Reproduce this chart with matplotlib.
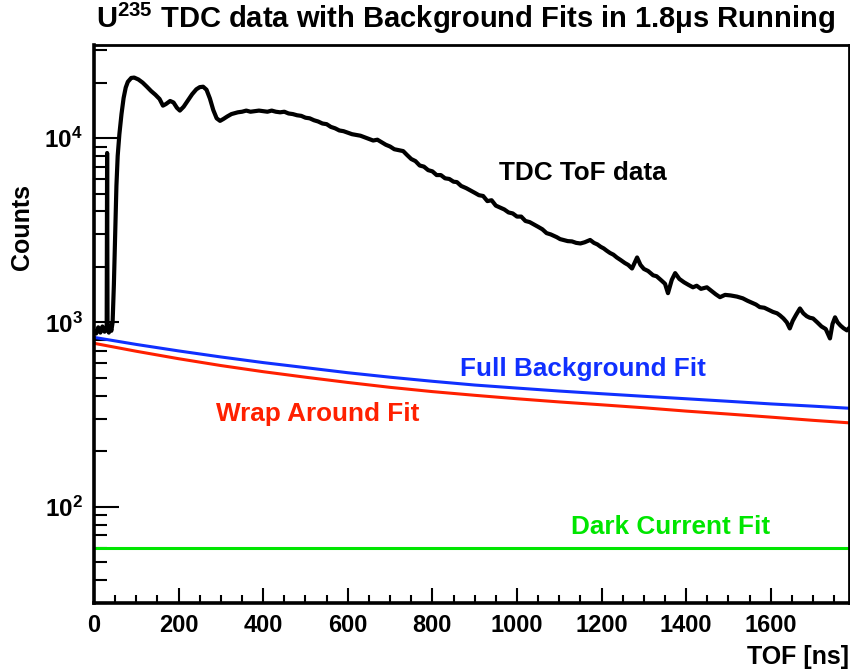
import matplotlib
matplotlib.use("Agg")
import matplotlib.pyplot as plt
import numpy as np
from matplotlib.ticker import MultipleLocator, LogLocator, FuncFormatter, NullFormatter

plt.rcParams['font.family'] = ['Liberation Sans', 'DejaVu Sans']
plt.rcParams['font.weight'] = 'bold'
plt.rcParams['mathtext.fontset'] = 'custom'
plt.rcParams['mathtext.rm'] = 'Liberation Sans:bold'
plt.rcParams['mathtext.bf'] = 'Liberation Sans:bold'
plt.rcParams['mathtext.default'] = 'bf'

# TDC time-of-flight histogram (ns, counts)
tof_t = [0, 5, 10, 15, 20, 25, 28, 30, 31, 32, 35, 38, 41, 44, 47, 50, 53, 56, 60, 65,
         70, 75, 80, 88, 95, 105, 115, 125, 135, 145, 155, 163, 170, 180, 188, 196, 203,
         212, 222, 232, 242, 250, 258, 266, 274, 282, 290, 298, 306, 315, 325,
         340, 350, 360, 370, 380, 390, 400, 410, 420, 430, 440, 450, 460, 470, 480, 490,
         500, 510, 520, 530, 540, 550, 560, 570, 580, 590, 600, 610, 620, 630, 640, 650,
         660, 670, 680, 690, 700, 710, 720, 731, 740, 750, 760, 770, 780, 790, 800, 810,
         820, 830, 840, 850, 858, 868, 880, 890, 900, 910, 920, 930, 940, 950, 960, 970,
         980, 990, 1000, 1010, 1020, 1030, 1040, 1050, 1060, 1070, 1080, 1094, 1102, 1110,
         1120, 1130, 1140, 1150, 1160, 1173, 1182, 1190, 1198, 1205, 1212, 1220, 1228,
         1236, 1245, 1255, 1263, 1272, 1278, 1284, 1292, 1300, 1310, 1322, 1330, 1340,
         1350, 1357, 1366, 1374, 1384, 1395, 1405, 1416, 1425, 1435, 1449, 1460, 1470,
         1480, 1492, 1505, 1520, 1534, 1545, 1555, 1565, 1574, 1585, 1595, 1605, 1615,
         1622, 1630, 1638, 1645, 1652, 1660, 1669, 1677, 1685, 1692, 1700, 1710, 1720,
         1730, 1740, 1746, 1752, 1758, 1765, 1772, 1780, 1785]
tof_counts = [900, 870, 940, 880, 950, 890, 920, 950, 8300, 950, 880, 960, 900, 1000,
              1600, 3000, 5500, 8000, 10500, 13500, 16500, 18800, 20200, 21200, 21300,
              20800, 20000, 19000, 18000, 17200, 16300, 15000, 15300, 15900, 15600, 14600,
              14100, 14800, 16000, 17300, 18400, 18900, 19000, 18300, 16400, 14200, 12800,
              12400, 12700, 13100, 13500,
              13800, 13900, 14100, 13900, 14000, 14100, 14000, 13900, 14100, 13900, 13800,
              13900, 13600, 13500, 13300, 13200, 12900, 12800, 12500, 12300, 12000, 11900,
              11500, 11300, 11000, 10900, 10700, 10500, 10400, 10300, 10100, 9900, 9700,
              9800, 9500, 9200, 9000, 8700, 8600, 8500, 8100, 7700, 7500, 7100, 7000, 6700,
              6600, 6300, 6300, 6050, 6000, 5800, 5770, 5500, 5350, 5200, 5050, 4900, 4850,
              4550, 4600, 4300, 4200, 4100, 3950, 3900, 3750, 3750, 3550, 3500, 3400, 3300,
              3200, 3050, 3000, 2900, 2830, 2800, 2760, 2750, 2700, 2680, 2720, 2800, 2700,
              2650, 2570, 2520, 2450, 2380, 2330, 2250, 2180, 2100, 2050, 1960, 2100, 2250,
              2050, 1950, 1900, 1800, 1780, 1700, 1620, 1440, 1700, 1850, 1720, 1650, 1600,
              1550, 1580, 1520, 1550, 1480, 1420, 1370, 1410, 1400, 1380, 1350, 1310, 1280,
              1250, 1210, 1200, 1170, 1140, 1120, 1090, 1050, 1000, 927, 1020, 1100, 1190,
              1120, 1080, 1060, 1050, 1000, 950, 920, 818, 980, 1065, 1000, 960, 930, 905,
              930]

# fitted background curves sampled every 100 ns
fit_t = [0, 100, 200, 300, 400, 500, 600, 700, 800, 900, 1000, 1100, 1200, 1300, 1400,
         1500, 1600, 1700, 1785]
full_bg = [829, 759, 700, 649, 605, 568, 533, 504, 479, 457, 440, 424, 410, 397, 385,
           373, 361, 351, 342]
wrap_around = [770, 697, 635, 583, 540, 504, 472, 444, 421, 402, 385, 370, 357, 344, 330,
               318, 306, 294, 285]
dark_t = [0, 1785]
dark_current = [60, 60]

fig = plt.figure(figsize=(8.5, 6.72), dpi=100)
ax = fig.add_axes([94/850, 1-603/672, 755/850, 558/672])

ax.plot(tof_t, tof_counts, color='black', lw=3, solid_joinstyle='round')
ax.plot(fit_t, full_bg, color='#1030ff', lw=2.2)
ax.plot(fit_t, wrap_around, color='#ff2000', lw=2.2)
ax.plot(dark_t, dark_current, color='#00e600', lw=2.2)

ax.set_yscale('log')
ax.set_xlim(0, 1785)
ax.set_ylim(30, 32000)

# ROOT-like ticks: inside, bottom and left only
ax.xaxis.set_major_locator(MultipleLocator(200))
ax.xaxis.set_minor_locator(MultipleLocator(50))
ax.yaxis.set_major_locator(LogLocator(base=10))
ax.yaxis.set_minor_locator(LogLocator(base=10, subs=np.arange(2, 10)))
ax.yaxis.set_minor_formatter(NullFormatter())
ax.yaxis.set_major_formatter(FuncFormatter(lambda v, p: r'$10^{%d}$' % round(np.log10(v))))
ax.xaxis.set_major_formatter(FuncFormatter(lambda v, p: '%d' % v if v < 1700 else ''))
ax.tick_params(axis='x', which='major', direction='in', length=11, width=1.5,
               labelsize=17, pad=8, top=False)
ax.tick_params(axis='x', which='minor', direction='in', length=6, width=1.5, top=False)
ax.tick_params(axis='y', which='major', direction='in', length=18, width=1.5,
               labelsize=17.5, pad=8, right=False)
ax.tick_params(axis='y', which='minor', direction='in', length=9, width=1.5, right=False)
for s in ax.spines.values():
    s.set_linewidth(2)
ax.spines['left'].set_linewidth(2.6)
ax.spines['bottom'].set_linewidth(2.6)

# labels on the curves
ax.text(1156, 6450, 'TDC ToF data', color='black', fontsize=18.8, ha='center', va='center')
ax.text(1156, 556, 'Full Background Fit', color='#1030ff', fontsize=18.8, ha='center', va='center')
ax.text(530, 320, 'Wrap Around Fit', color='#ff2000', fontsize=18.8, ha='center', va='center')
ax.text(1364, 78, 'Dark Current Fit', color='#00e600', fontsize=18.8, ha='center', va='center')

fig.text(466/850, 1-18/672, r'U$^{235}$ TDC data with Background Fits in 1.8μs Running',
         fontsize=21, ha='center', va='center')
fig.text(22/850, 1-227/672, 'Counts', fontsize=18, rotation=90, ha='center', va='center')
fig.text(849/850, 1-657/672, 'TOF [ns]', fontsize=18, ha='right', va='center')

fig.savefig('out.png', dpi=100)
